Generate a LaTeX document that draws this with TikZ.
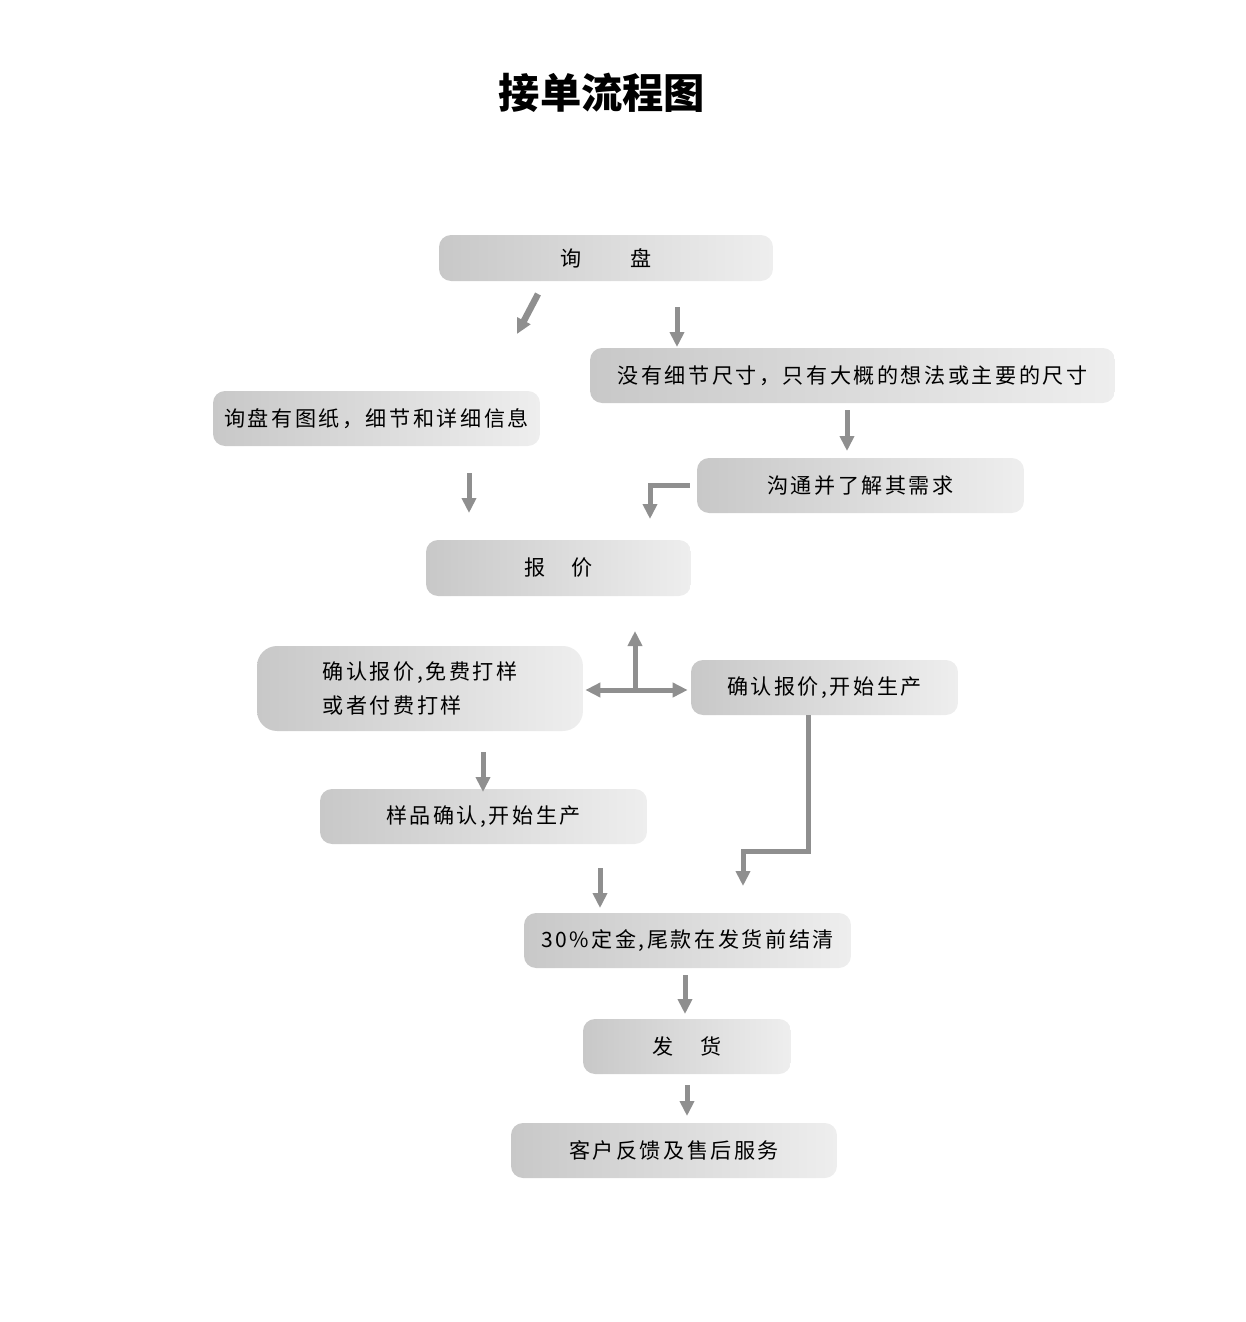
\documentclass[tikz,border=0pt]{standalone}
\usepackage{fontspec}
\newfontfamily\cjk[LetterSpace=12]{Noto Sans CJK SC}
\newfontfamily\cjktitle{Noto Sans CJK SC}
\usepackage{xcolor}
\usepackage{tikz}
\usetikzlibrary{calc,arrows.meta,shadings}

\definecolor{boxleft}{RGB}{200,200,200}
\definecolor{boxright}{RGB}{238,238,238}
\definecolor{arrowgray}{RGB}{143,143,143}

\begin{document}
\begin{tikzpicture}[x=0.02cm,y=-0.02cm,
		box/.style={rounded corners=0.24cm,left color=boxleft,right color=boxright,
			inner sep=0pt,font=\cjk\fontsize{12}{17}\selectfont,align=center},
		arr/.style={draw=arrowgray,line width=0.1cm,-{Triangle[length=0.3cm,width=0.28cm]}}]
			\useasboundingbox (0,0) rectangle (1245,1322);
			
			\node[font=\cjktitle\bfseries\fontsize{23.5}{28}\selectfont] (title) at (602,93) {接单流程图};
			
			\node[box,minimum width=6.68cm,minimum height=0.92cm] (xunpan) at (606,258) {询　　盘};
			\node[box,minimum width=10.5cm,minimum height=1.1cm] (nodetail) at (852.5,375.5) {没有细节尺寸，只有大概的想法或主要的尺寸};
			\node[box,minimum width=6.54cm,minimum height=1.1cm] (tuzhi) at (376.5,418.5) {询盘有图纸，细节和详细信息};
			\node[box,minimum width=6.54cm,minimum height=1.1cm] (goutong) at (860.5,485.5) {沟通并了解其需求};
			\node[box,minimum width=5.3cm,minimum height=1.12cm] (baojia) at (558.5,568) {报　价};
			\node[box,rounded corners=0.4cm,minimum width=6.52cm,minimum height=1.7cm,align=left,
				font=\cjk\fontsize{12}{19.5}\selectfont] (dayang) at (420,688.5) {确认报价,免费打样\\或者付费打样};
			\node[box,minimum width=5.34cm,minimum height=1.1cm] (shengchan) at (824.5,687.5) {确认报价,开始生产};
			\node[box,minimum width=6.54cm,minimum height=1.1cm] (yangpin) at (483.5,816.5) {样品确认,开始生产};
			\node[box,minimum width=6.54cm,minimum height=1.1cm] (dingjin) at (687.5,940.5) {30\%定金,尾款在发货前结清};
			\node[box,minimum width=4.16cm,minimum height=1.1cm] (fahuo) at (687,1046.5) {发　货};
			\node[box,minimum width=6.52cm,minimum height=1.1cm] (shouhou) at (674,1150.5) {客户反馈及售后服务};
			
			% arrow ends
			\coordinate (a1) at (538,294); \coordinate (a2) at (517,334);
			\coordinate (b1) at (677,307); \coordinate (b2) at (677,347);
			\coordinate (c1) at (847,410); \coordinate (c2) at (847,451);
			\coordinate (d2) at (650,519);
			\coordinate (e1) at (469,473); \coordinate (e2) at (469,513);
			\coordinate (f1) at (635,690); \coordinate (f2) at (635,631);
			\coordinate (g1) at (483,752); \coordinate (g2) at (483,792);
			\coordinate (h1) at (808,715); \coordinate (h2) at (743,886);
			\coordinate (i1) at (600,868); \coordinate (i2) at (600,908);
			\coordinate (j1) at (685,975); \coordinate (j2) at (685,1014);
			\coordinate (k1) at (687,1085); \coordinate (k2) at (687,1116);
			
			\draw[arr,line width=0.13cm] (a1)--(a2);
			\draw[arr] (b1)--(b2);
			\draw[arr] (c1)--(c2);
			\draw[arr,shorten <=0.14cm] (goutong.west) -| (d2);
			\draw[arr] (e1)--(e2);
			\draw[arr,{Triangle[length=0.3cm,width=0.28cm]}-{Triangle[length=0.3cm,width=0.28cm]},shorten <=0.04cm,shorten >=0.06cm]
				(dayang.east |- f1)--(shengchan.west |- f1);
			\draw[arr] (f1)--(f2);
			\draw[arr] (g1)--(g2);
			\draw[arr] (h1)--(808,851)-|(h2);
			\draw[arr] (i1)--(i2);
			\draw[arr] (j1)--(j2);
			\draw[arr] (k1)--(k2);
		\end{tikzpicture}
\end{document}
